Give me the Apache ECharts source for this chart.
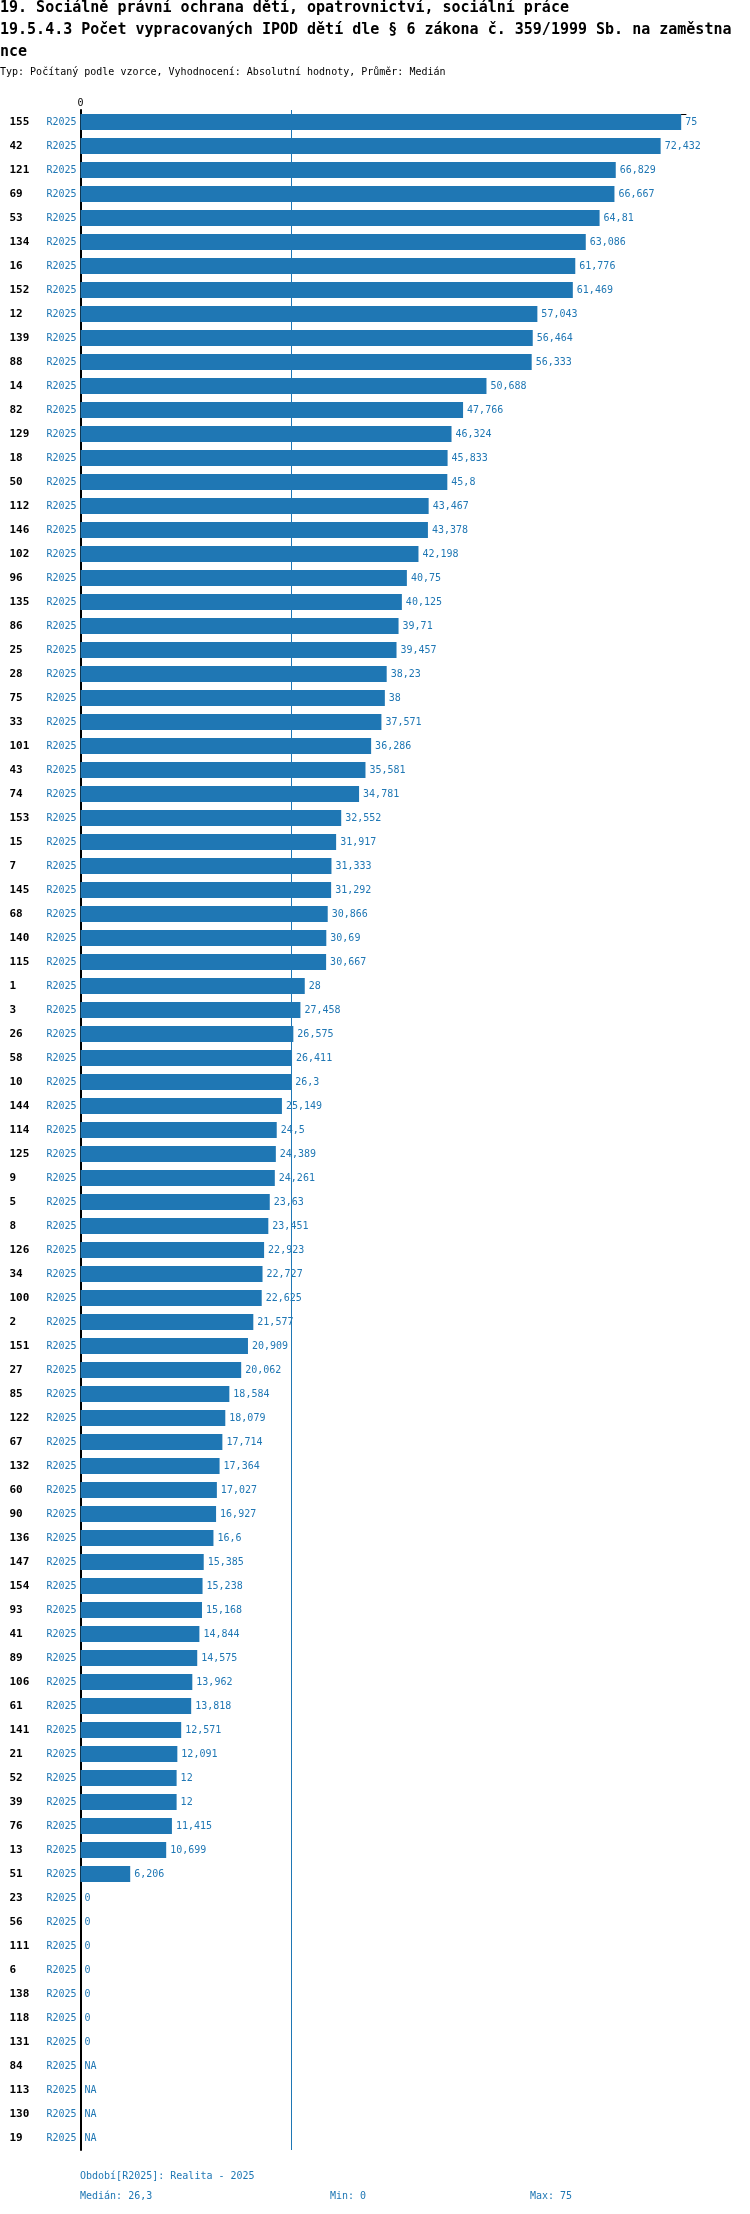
<!DOCTYPE html>
<html>
<head>
<meta charset="utf-8">
<script src="https://cdn.jsdelivr.net/npm/echarts@6/dist/echarts.min.js"></script>
<style>
    html, body { margin: 0; padding: 0; background: #fff; }
    #chart { width: 750px; height: 2214px; }
</style>
</head>
<body>
<div id="chart"></div>
<script>
// row ids (obce) in displayed order
const rowIds = [
    '155', '42', '121', '69', '53', '134', '16', '152', '12', '139',
    '88', '14', '82', '129', '18', '50', '112', '146', '102', '96',
    '135', '86', '25', '28', '75', '33', '101', '43', '74', '153',
    '15', '7', '145', '68', '140', '115', '1', '3', '26', '58',
    '10', '144', '114', '125', '9', '5', '8', '126', '34', '100',
    '2', '151', '27', '85', '122', '67', '132', '60', '90', '136',
    '147', '154', '93', '41', '89', '106', '61', '141', '21', '52',
    '39', '76', '13', '51', '23', '56', '111', '6', '138', '118',
    '131', '84', '113', '130', '19',
];
// values for R2025, null = NA
const values2025 = [
    75, 72.432, 66.829, 66.667, 64.81, 63.086, 61.776, 61.469, 57.043, 56.464,
    56.333, 50.688, 47.766, 46.324, 45.833, 45.8, 43.467, 43.378, 42.198, 40.75,
    40.125, 39.71, 39.457, 38.23, 38, 37.571, 36.286, 35.581, 34.781, 32.552,
    31.917, 31.333, 31.292, 30.866, 30.69, 30.667, 28, 27.458, 26.575, 26.411,
    26.3, 25.149, 24.5, 24.389, 24.261, 23.63, 23.451, 22.923, 22.727, 22.625,
    21.577, 20.909, 20.062, 18.584, 18.079, 17.714, 17.364, 17.027, 16.927, 16.6,
    15.385, 15.238, 15.168, 14.844, 14.575, 13.962, 13.818, 12.571, 12.091, 12,
    12, 11.415, 10.699, 6.206, 0, 0, 0, 0, 0, 0,
    0, null, null, null, null,
];
const periodCode = 'R2025';
const periodName = 'Realita - 2025';

const FONT = 'DejaVu Sans Mono';
const BLUE = '#1f77b4';

function czNum(v) {
    return String(v).replace('.', ',');
}

const known = values2025.filter(v => v !== null).slice().sort((a, b) => a - b);
const median = known.length % 2
    ? known[(known.length - 1) / 2]
    : (known[known.length / 2 - 1] + known[known.length / 2]) / 2;
const minValue = known[0];
const maxValue = known[known.length - 1];

const chart = echarts.init(document.getElementById('chart'), null, {renderer: 'canvas'});
chart.setOption({
    animation: false,
    backgroundColor: '#fff',
    title: [
        {
            text: '19. Sociálně právní ochrana dětí, opatrovnictví, sociální práce\n'
                + '19.5.4.3 Počet vypracovaných IPOD dětí dle § 6 zákona č. 359/1999 Sb. na zaměstna\nnce',
            left: 0,
            top: -3,
            padding: 0,
            textStyle: {
                fontFamily: FONT,
                fontSize: 15,
                fontWeight: 'bold',
                lineHeight: 22,
                color: '#000',
            },
        },
        {
            text: 'Typ: Počítaný podle vzorce, Vyhodnocení: Absolutní hodnoty, Průměr: Medián',
            left: 0,
            top: 66.5,
            padding: 0,
            textStyle: {
                fontFamily: FONT,
                fontSize: 10,
                fontWeight: 'normal',
                lineHeight: 12,
                color: '#000',
            },
        },
        {
            text: 'Období[' + periodCode + ']: ' + periodName,
            left: 80,
            top: 2170,
            padding: 0,
            textStyle: {fontFamily: FONT, fontSize: 10, fontWeight: 'normal', lineHeight: 12, color: BLUE},
        },
        {
            text: 'Medián: ' + czNum(median),
            left: 80,
            top: 2190,
            padding: 0,
            textStyle: {fontFamily: FONT, fontSize: 10, fontWeight: 'normal', lineHeight: 12, color: BLUE},
        },
        {
            text: 'Min: ' + czNum(minValue),
            left: 330,
            top: 2190,
            padding: 0,
            textStyle: {fontFamily: FONT, fontSize: 10, fontWeight: 'normal', lineHeight: 12, color: BLUE},
        },
        {
            text: 'Max: ' + czNum(maxValue),
            left: 530,
            top: 2190,
            padding: 0,
            textStyle: {fontFamily: FONT, fontSize: 10, fontWeight: 'normal', lineHeight: 12, color: BLUE},
        },
    ],
    grid: {
        left: 80.5,
        top: 110,
        width: 605.5,
        height: 2040,
        containLabel: false,
    },
    xAxis: {
        type: 'value',
        position: 'top',
        offset: -4.3,
        min: 0,
        max: 75.6,
        axisLine: {show: true, onZero: false, lineStyle: {color: '#000', width: 1}},
        axisTick: {show: false},
        splitLine: {show: false},
        axisLabel: {
            customValues: [0],
            margin: 6,
            fontFamily: FONT,
            fontSize: 10,
            color: '#000',
        },
    },
    yAxis: {
        type: 'category',
        inverse: true,
        data: rowIds,
        axisLine: {show: true, lineStyle: {color: '#000', width: 2}},
        axisTick: {show: false},
        splitLine: {show: false},
        axisLabel: {
            interval: 0,
            margin: 4,
            formatter: v => '{id|' + v + '}{p|' + periodCode + '}',
            rich: {
                id: {
                    fontFamily: FONT,
                    fontSize: 11,
                    fontWeight: 'bold',
                    color: '#000',
                    width: 37,
                    align: 'left',
                },
                p: {
                    fontFamily: FONT,
                    fontSize: 10,
                    color: BLUE,
                    width: 30,
                    align: 'right',
                },
            },
        },
    },
    series: [
        {
            type: 'bar',
            name: periodCode,
            barWidth: 16,
            itemStyle: {color: BLUE},
            label: {
                show: true,
                position: 'right',
                distance: 4,
                fontFamily: FONT,
                fontSize: 10,
                color: BLUE,
                formatter: p => czNum(p.value),
            },
            data: values2025.map(v => v === null
                ? {value: 0, label: {formatter: 'NA'}}
                : v),
            markLine: {
                silent: true,
                symbol: ['none', 'none'],
                label: {show: false},
                lineStyle: {color: BLUE, width: 1, type: 'solid'},
                data: [{xAxis: median}],
            },
        },
    ],
});
</script>
</body>
</html>
